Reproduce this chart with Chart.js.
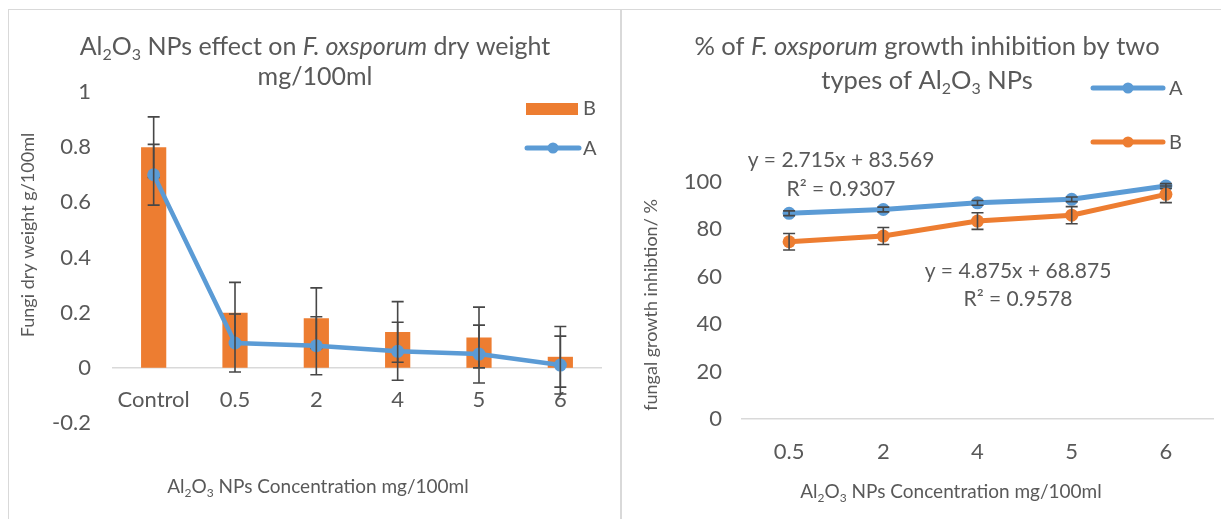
<!DOCTYPE html>
<html><head><meta charset="utf-8">
<script src="https://cdn.jsdelivr.net/npm/chart.js@4.4.1/dist/chart.umd.min.js"></script>
<style>
html,body{margin:0;padding:0;background:#fff;width:1221px;height:519px;overflow:hidden;}
#frame{position:absolute;left:8px;top:9px;width:1213px;height:510px;border-left:1px solid #d9d9d9;border-top:1px solid #d9d9d9;box-sizing:border-box;}
#divider{position:absolute;left:620px;top:9px;width:2px;height:510px;background:#d9d9d9;}
#w1{position:absolute;left:9px;top:10px;width:611px;height:509px;}
#w2{position:absolute;left:623px;top:10px;width:598px;height:509px;}
</style></head><body>
<div id="frame"></div><div id="divider"></div>
<div id="w1"><canvas id="c1" width="611" height="509"></canvas></div>
<div id="w2"><canvas id="c2" width="598" height="509"></canvas></div>
<script>
// ---------- data ----------
const leftCategories = ['Control', '0.5', '2', '4', '5', '6'];
const leftB = [0.80, 0.20, 0.18, 0.13, 0.11, 0.04];
const leftBErr = [0.11, 0.11, 0.11, 0.11, 0.11, 0.11];
const leftA = [0.70, 0.09, 0.08, 0.06, 0.05, 0.01];
const leftAErr = [0.11, 0.105, 0.105, 0.105, 0.105, 0.105];
const leftYMin = -0.2, leftYMax = 1, leftYStep = 0.2;

const rightCategories = ['0.5', '2', '4', '5', '6'];
const rightA = [86.8, 88.4, 91.2, 92.7, 98.3];
const rightAErr = [1.0, 1.0, 1.0, 1.0, 1.0];
const rightB = [74.8, 77.2, 83.5, 86.0, 94.8];
const rightBErr = [3.5, 3.6, 3.5, 3.6, 3.5];
const rightYMin = 0, rightYMax = 100, rightYStep = 20;

const eqA = ['y = 2.715x + 83.569', 'R² = 0.9307'];
const eqB = ['y = 4.875x + 68.875', 'R² = 0.9578'];

// ---------- style ----------
const FONT = 'Lato';
const TEXT = '#595959';
const BLUE = '#5B9BD5';
const ORANGE = '#ED7D31';
const ERR = '#474747';
Chart.defaults.font.family = FONT;
Chart.defaults.color = TEXT;
Chart.defaults.animation = false;

function segFont(seg, size) {
  const s = seg.sub ? Math.round(size * 0.64) : size;
  return (seg.it ? 'italic ' : '') + s + 'px ' + FONT;
}
function drawRich(ctx, segs, x, y, size, align, rot) {
  ctx.save();
  ctx.translate(x, y);
  if (rot) ctx.rotate(rot);
  let w = 0;
  const ws = segs.map(s => { ctx.font = segFont(s, size); const m = ctx.measureText(s.t).width; w += m; return m; });
  let cx = align === 'left' ? 0 : -w / 2;
  ctx.fillStyle = TEXT; ctx.textBaseline = 'middle'; ctx.textAlign = 'left';
  segs.forEach((s, i) => { ctx.font = segFont(s, size); ctx.fillText(s.t, cx, s.sub ? size * 0.3 : 0); cx += ws[i]; });
  ctx.restore();
}
const AL2O3 = [{t: 'Al'}, {t: '2', sub: 1}, {t: 'O'}, {t: '3', sub: 1}];

function textPlugin(items, legend) {
  return {
    id: 'richText',
    afterDraw(chart) {
      const ctx = chart.ctx;
      items.forEach(it => drawRich(ctx, it.segs, it.x, it.y, it.size, it.align, it.rot));
      legend(ctx);
    }
  };
}

const errorBarPlugin = {
  id: 'errBars',
  afterDatasetDraw(chart, args) {
    const ds = chart.data.datasets[args.index];
    if (!ds.errors) return;
    const ctx = chart.ctx, ys = chart.scales.y;
    ctx.save();
    ctx.strokeStyle = ERR; ctx.lineWidth = 1.6;
    args.meta.data.forEach((el, i) => {
      const v = ds.data[i], e = ds.errors[i];
      const t = ys.getPixelForValue(v + e), b = ys.getPixelForValue(v - e), x = el.x;
      ctx.beginPath();
      ctx.moveTo(x, t); ctx.lineTo(x, b);
      ctx.moveTo(x - 6, t); ctx.lineTo(x + 6, t);
      ctx.moveTo(x - 6, b); ctx.lineTo(x + 6, b);
      ctx.stroke();
    });
    ctx.restore();
  }
};

function legendLine(ctx, x1, x2, y, color, label, tx) {
  ctx.save();
  ctx.strokeStyle = color; ctx.lineWidth = 5; ctx.lineCap = 'round';
  ctx.beginPath(); ctx.moveTo(x1, y); ctx.lineTo(x2, y); ctx.stroke();
  ctx.fillStyle = color; ctx.beginPath(); ctx.arc((x1 + x2) / 2, y, 5.5, 0, Math.PI * 2); ctx.fill();
  ctx.restore();
  drawRich(ctx, [{t: label}], tx, y + 1, 20, 'left');
}
const tickFmt = v => { const r = Math.round(v * 10) / 10; return Math.abs(r) < 1e-9 ? '0' : String(r); };

// ---------- left chart ----------
const leftItems = [
  {segs: AL2O3.concat([{t: ' NPs effect on '}, {t: 'F. oxsporum', it: 1}, {t: ' dry weight'}]), x: 306, y: 37, size: 25},
  {segs: [{t: 'mg/100ml'}], x: 306, y: 67, size: 25},
  {segs: [{t: 'Fungi dry weight g/100ml'}], x: 19, y: 225, size: 18, rot: -Math.PI / 2},
  {segs: AL2O3.concat([{t: ' NPs Concentration mg/100ml'}]), x: 309, y: 477, size: 19}
];
new Chart(document.getElementById('c1'), {
  data: {
    labels: leftCategories,
    datasets: [
      {type: 'line', label: 'A', data: leftA, errors: leftAErr, order: 0,
       borderColor: BLUE, backgroundColor: BLUE, borderWidth: 4.5,
       pointRadius: 6.5, pointBorderWidth: 0, pointBackgroundColor: BLUE, clip: false},
      {type: 'bar', label: 'B', data: leftB, errors: leftBErr, order: 1,
       backgroundColor: ORANGE, categoryPercentage: 1, barPercentage: 0.31}
    ]
  },
  options: {
    responsive: false,
    layout: {padding: {left: 0, right: 19, top: 82, bottom: 96}},
    plugins: {legend: {display: false}, tooltip: {enabled: false}, title: {display: false}},
    scales: {
      x: {type: 'category', position: {y: 0}, offset: true,
          grid: {display: false, drawTicks: false},
          border: {display: true, color: '#d9d9d9', width: 1.5},
          ticks: {padding: 19, maxRotation: 0, autoSkip: false, font: {size: 22}},
          afterFit: s => { s.height = 0; }},
      y: {type: 'linear', min: leftYMin, max: leftYMax,
          grid: {display: false, drawTicks: false}, border: {display: false},
          ticks: {stepSize: leftYStep, padding: 22, font: {size: 22}, callback: tickFmt},
          afterFit: s => { s.width = 104; }}
    }
  },
  plugins: [errorBarPlugin, textPlugin(leftItems, ctx => {
    ctx.fillStyle = ORANGE; ctx.fillRect(517, 93, 52, 12);
    drawRich(ctx, [{t: 'B'}], 574, 99, 20, 'left');
    legendLine(ctx, 518, 570, 138, BLUE, 'A', 574);
  })]
});

// ---------- right chart ----------
const rightItems = [
  {segs: [{t: '% of '}, {t: 'F. oxsporum', it: 1}, {t: ' growth inhibition by two'}], x: 304, y: 37, size: 25.5},
  {segs: [{t: 'types of '}].concat(AL2O3, [{t: ' NPs'}]), x: 304, y: 71, size: 25.5},
  {segs: [{t: 'fungal growth inhibtion/ %'}], x: 28, y: 295, size: 18, rot: -Math.PI / 2},
  {segs: AL2O3.concat([{t: ' NPs Concentration mg/100ml'}]), x: 328, y: 482, size: 19},
  {segs: [{t: eqA[0]}], x: 218, y: 150, size: 21},
  {segs: [{t: eqA[1]}], x: 218, y: 179, size: 21},
  {segs: [{t: eqB[0]}], x: 395, y: 261, size: 21},
  {segs: [{t: eqB[1]}], x: 395, y: 289, size: 21}
];
new Chart(document.getElementById('c2'), {
  type: 'line',
  data: {
    labels: rightCategories,
    datasets: [
      {label: 'B', data: rightB, errors: rightBErr, order: 0,
       borderColor: ORANGE, backgroundColor: ORANGE, borderWidth: 5,
       pointRadius: 6.5, pointBorderWidth: 0, pointBackgroundColor: ORANGE, clip: false},
      {label: 'A', data: rightA, errors: rightAErr, order: 1,
       borderColor: BLUE, backgroundColor: BLUE, borderWidth: 5,
       pointRadius: 6.5, pointBorderWidth: 0, pointBackgroundColor: BLUE, clip: false}
    ]
  },
  options: {
    responsive: false,
    layout: {padding: {left: 0, right: 8, top: 172, bottom: 40}},
    plugins: {legend: {display: false}, tooltip: {enabled: false}, title: {display: false}},
    scales: {
      x: {type: 'category', position: 'bottom', offset: true,
          grid: {display: false, drawTicks: false},
          border: {display: true, color: '#d9d9d9', width: 1.5},
          ticks: {padding: 20, maxRotation: 0, autoSkip: false, font: {size: 22}},
          afterFit: s => { s.height = 60; }},
      y: {type: 'linear', min: rightYMin, max: rightYMax,
          grid: {display: false, drawTicks: false}, border: {display: false},
          ticks: {stepSize: rightYStep, padding: 20, font: {size: 22}},
          afterFit: s => { s.width = 119; }}
    }
  },
  plugins: [errorBarPlugin, textPlugin(rightItems, ctx => {
    legendLine(ctx, 470, 540, 78, BLUE, 'A', 546);
    legendLine(ctx, 470, 540, 132, ORANGE, 'B', 546);
  })]
});
</script>
</body></html>
